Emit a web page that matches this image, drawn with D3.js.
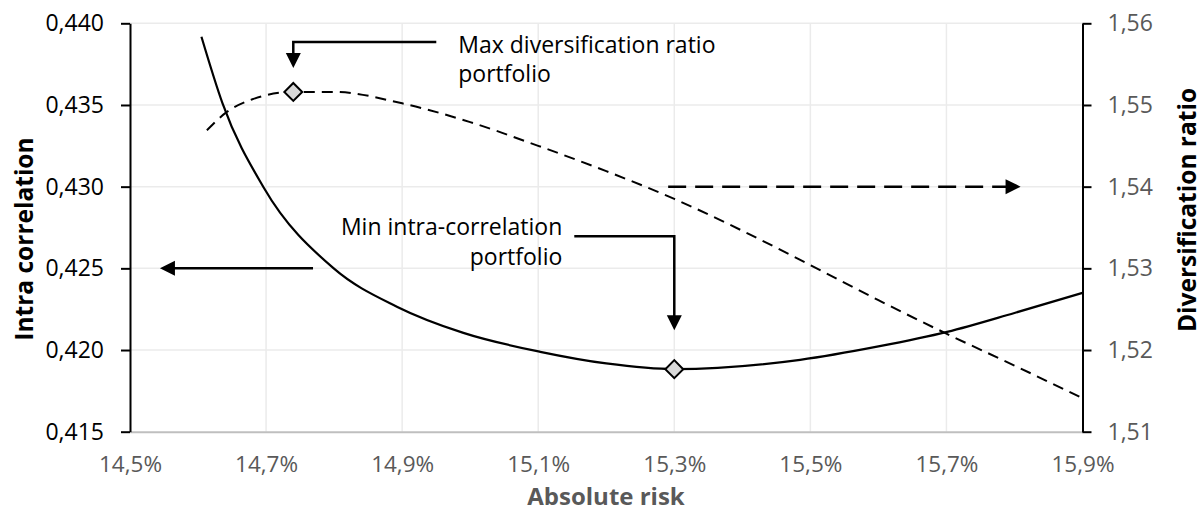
<!DOCTYPE html>
<html>
<head>
<meta charset="utf-8">
<script src="https://cdn.jsdelivr.net/npm/d3@7"></script>
<style>
  body { margin: 0; background: #fff; }
  text { font-family: "Open Sans", sans-serif; }
</style>
</head>
<body>
<script>
// intra correlation curve (left axis)
var riskIC = [14.605, 14.636, 14.696, 14.799, 14.893, 14.99, 15.103, 15.2, 15.301, 15.485, 15.6, 15.701, 15.8, 15.9];
var intraCorr = [0.43918, 0.43510, 0.42998, 0.42501, 0.42264, 0.42105, 0.41989, 0.41918, 0.41883, 0.41940, 0.42022, 0.42111, 0.42227, 0.42350];

// diversification ratio curve (right axis)
var riskDR = [14.613, 14.64, 14.68, 14.74, 14.80, 14.90, 15.00, 15.10, 15.20, 15.30, 15.40, 15.50, 15.60, 15.70, 15.80, 15.90];
var divRatio = [1.5469, 1.5490, 1.5507, 1.5516, 1.5516, 1.5502, 1.5479, 1.5450, 1.5419, 1.5385, 1.5346, 1.5304, 1.5261, 1.5220, 1.5181, 1.5141];

// highlighted portfolios
var maxDrRisk = 14.74, maxDrValue = 1.5516;
var minIcRisk = 15.30, minIcValue = 0.41883;

var xTicks = [14.5, 14.7, 14.9, 15.1, 15.3, 15.5, 15.7, 15.9];
var leftTicks = [0.415, 0.420, 0.425, 0.430, 0.435, 0.440];
var rightTicks = [1.51, 1.52, 1.53, 1.54, 1.55, 1.56];

var maxDrLabel = ['Max diversification ratio', 'portfolio'];
var minIcLabel = ['Min intra-correlation', 'portfolio'];

var width = 1203, height = 511;
var plot = { left: 130, right: 1082.5, top: 23.3, bottom: 431.7 };

var locale = d3.formatLocale({ decimal: ',', thousands: '.', grouping: [3], currency: ['', ''] });

var x = d3.scaleLinear().domain([14.5, 15.9]).range([plot.left, plot.right]);
var yL = d3.scaleLinear().domain([0.415, 0.440]).range([plot.bottom, plot.top]);
var yR = d3.scaleLinear().domain([1.51, 1.56]).range([plot.bottom, plot.top]);

var svg = d3.select('body').append('svg').attr('width', width).attr('height', height);

// grid
var grid = svg.append('g').attr('stroke', '#ebebeb').attr('stroke-width', 1.5);
grid.selectAll('.h').data(leftTicks.slice(1)).enter().append('line')
    .attr('x1', plot.left).attr('x2', plot.right)
    .attr('y1', function(d) { return yL(d); }).attr('y2', function(d) { return yL(d); });
grid.selectAll('.v').data(xTicks.slice(1, -1)).enter().append('line')
    .attr('y1', plot.top).attr('y2', plot.bottom)
    .attr('x1', function(d) { return x(d); }).attr('x2', function(d) { return x(d); });

// axes
var xAxis = svg.append('g')
    .attr('transform', 'translate(0,' + plot.bottom + ')')
    .call(d3.axisBottom(x).tickValues(xTicks).tickSize(0).tickPadding(24.3)
        .tickFormat(function(d) { return locale.format('.1f')(d) + '%'; }));
xAxis.select('.domain').attr('stroke', '#bfbfbf').attr('stroke-width', 2);
xAxis.selectAll('text').attr('font-size', 22.5).attr('fill', '#595959').attr('font-family', 'Open Sans');

var leftAxis = svg.append('g')
    .attr('transform', 'translate(' + plot.left + ',0)')
    .call(d3.axisLeft(yL).tickValues(leftTicks).tickSize(9).tickSizeOuter(0).tickPadding(17)
        .tickFormat(locale.format('.3f')));
leftAxis.select('.domain').attr('stroke', '#000').attr('stroke-width', 2);
leftAxis.selectAll('line').attr('stroke', '#000').attr('stroke-width', 2);
leftAxis.selectAll('text').attr('font-size', 23).attr('fill', '#000').attr('font-family', 'Open Sans');

var rightAxis = svg.append('g')
    .attr('transform', 'translate(' + plot.right + ',0)')
    .call(d3.axisRight(yR).tickValues(rightTicks).tickSize(9).tickSizeOuter(0).tickPadding(16)
        .tickFormat(locale.format('.2f')));
rightAxis.select('.domain').attr('stroke', '#000').attr('stroke-width', 2);
rightAxis.selectAll('line').attr('stroke', '#000').attr('stroke-width', 2);
rightAxis.selectAll('text').attr('font-size', 23).attr('fill', '#595959').attr('font-family', 'Open Sans');

// axis titles
svg.append('text').attr('x', 606).attr('y', 504.5).attr('text-anchor', 'middle')
    .attr('font-size', 24).attr('font-weight', 'bold').attr('fill', '#595959').text('Absolute risk');
svg.append('text').attr('transform', 'translate(33,239) rotate(-90)').attr('text-anchor', 'middle')
    .attr('font-size', 24.5).attr('font-weight', 'bold').attr('fill', '#000').text('Intra correlation');
svg.append('text').attr('transform', 'translate(1196,210) rotate(-90)').attr('text-anchor', 'middle')
    .attr('font-size', 24.5).attr('font-weight', 'bold').attr('fill', '#000').text('Diversification ratio');

// series
var lineIC = d3.line().curve(d3.curveMonotoneX)
    .x(function(d, i) { return x(riskIC[i]); })
    .y(function(d) { return yL(d); });
var lineDR = d3.line().curve(d3.curveMonotoneX)
    .x(function(d, i) { return x(riskDR[i]); })
    .y(function(d) { return yR(d); });

svg.append('path').attr('d', lineIC(intraCorr))
    .attr('fill', 'none').attr('stroke', '#000').attr('stroke-width', 2.2);
svg.append('path').attr('d', lineDR(divRatio))
    .attr('fill', 'none').attr('stroke', '#000').attr('stroke-width', 2)
    .attr('stroke-dasharray', '11,7');

// arrow helper
function arrowHead(tipX, tipY, dir) {
    var len = 15, half = 7.5;
    if (dir === 'down') return 'M' + tipX + ',' + tipY + 'L' + (tipX - half) + ',' + (tipY - len) + 'L' + (tipX + half) + ',' + (tipY - len) + 'Z';
    if (dir === 'left') return 'M' + tipX + ',' + tipY + 'L' + (tipX + len) + ',' + (tipY - half) + 'L' + (tipX + len) + ',' + (tipY + half) + 'Z';
    return 'M' + tipX + ',' + tipY + 'L' + (tipX - len) + ',' + (tipY - half) + 'L' + (tipX - len) + ',' + (tipY + half) + 'Z';
}
var ann = svg.append('g');

// max diversification ratio callout
var mdx = x(maxDrRisk), mdy = yR(maxDrValue);
ann.append('path').attr('d', 'M' + (mdx + 143) + ',' + (mdy - 50) + 'H' + mdx + 'V' + (mdy - 38))
    .attr('fill', 'none').attr('stroke', '#000').attr('stroke-width', 2.5);
ann.append('path').attr('d', arrowHead(mdx, mdy - 24, 'down')).attr('fill', '#000');
ann.append('text').attr('x', mdx + 165).attr('font-size', 23).attr('fill', '#000')
    .selectAll('tspan').data(maxDrLabel).enter().append('tspan')
    .attr('x', mdx + 165).attr('y', function(d, i) { return mdy - 39 + i * 29; }).text(function(d) { return d; });

// min intra-correlation callout
var mix = x(minIcRisk), miy = yL(minIcValue);
ann.append('path').attr('d', 'M' + (mix - 100) + ',' + (miy - 133) + 'H' + mix + 'V' + (miy - 53))
    .attr('fill', 'none').attr('stroke', '#000').attr('stroke-width', 2.5);
ann.append('path').attr('d', arrowHead(mix, miy - 39, 'down')).attr('fill', '#000');
ann.append('text').attr('text-anchor', 'end').attr('font-size', 23).attr('fill', '#000')
    .selectAll('tspan').data(minIcLabel).enter().append('tspan')
    .attr('x', mix - 112).attr('y', function(d, i) { return miy - 134 + i * 30; }).text(function(d) { return d; });

// axis pointers
var ly = yL(0.425);
ann.append('path').attr('d', 'M' + x(14.769) + ',' + ly + 'H' + (x(14.544) + 12))
    .attr('stroke', '#000').attr('stroke-width', 2.5);
ann.append('path').attr('d', arrowHead(x(14.544), ly, 'left')).attr('fill', '#000');

var ry = yR(1.54);
ann.append('path').attr('d', 'M' + x(15.291) + ',' + ry + 'H' + (x(15.809) - 12))
    .attr('stroke', '#000').attr('stroke-width', 2.5).attr('stroke-dasharray', '18,9');
ann.append('path').attr('d', arrowHead(x(15.809), ry, 'right')).attr('fill', '#000');

// markers
var diamond = d3.symbol().type(d3.symbolSquare).size(160);
svg.append('path').attr('d', diamond())
    .attr('transform', 'translate(' + mdx + ',' + mdy + ') rotate(45)')
    .attr('fill', '#d9d9d9').attr('stroke', '#000').attr('stroke-width', 2);
svg.append('path').attr('d', diamond())
    .attr('transform', 'translate(' + mix + ',' + miy + ') rotate(45)')
    .attr('fill', '#d9d9d9').attr('stroke', '#000').attr('stroke-width', 2);
</script>
</body>
</html>
